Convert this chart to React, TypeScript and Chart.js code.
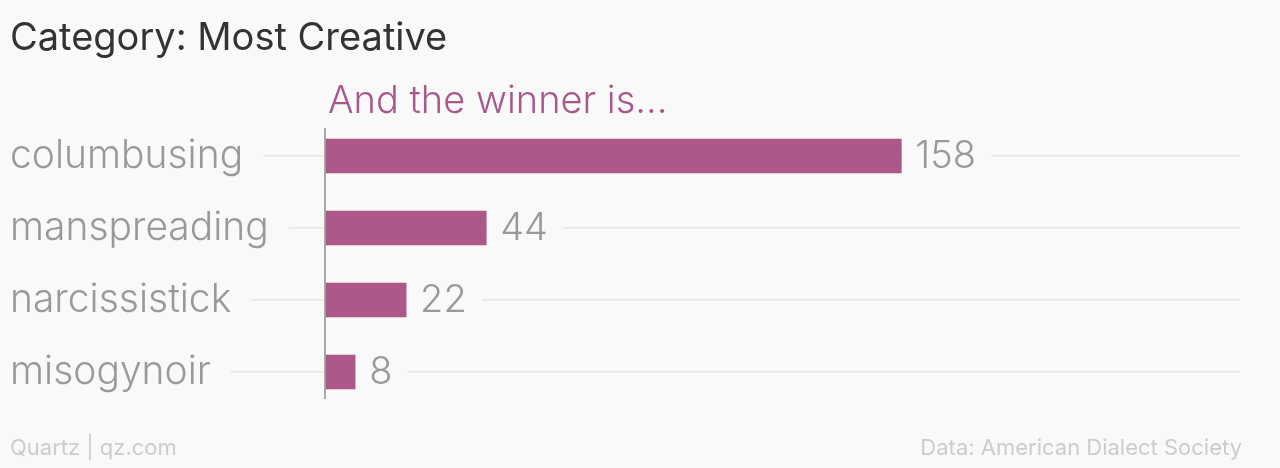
import React, { useEffect, useRef } from "react";
import { Chart, registerables } from "chart.js";

Chart.register(...registerables);

const categories = ["columbusing", "manspreading", "narcissistick", "misogynoir"];
const votes = [158, 44, 22, 8];
const titleText = "Category: Most Creative";
const subtitleText = "And the winner is...";
const footerLeft = "Quartz | qz.com";
const footerRight = "Data: American Dialect Society";

const BG = "#f9f9f9";
const BAR = "#ab5787";
const LABEL = "#999999";
const GRID = "#e6e6e6";
const FONT = "Inter, 'Noto Sans', sans-serif";

export default function App() {
  const ref = useRef<HTMLCanvasElement | null>(null);

  useEffect(() => {
    document.body.style.background = BG;
    const canvas = ref.current;
    if (!canvas) return;

    const decor = {
      id: "decor",
      beforeDatasetsDraw(chart: any) {
        const { ctx } = chart;
        const x = chart.scales.x.getPixelForValue(0);
        const y = chart.scales.y;
        ctx.save();
        ctx.strokeStyle = "#aaaaaa";
        ctx.lineWidth = 2;
        ctx.beginPath();
        ctx.moveTo(x - 1, y.top + 8);
        ctx.lineTo(x - 1, y.bottom - 9);
        ctx.stroke();
        ctx.restore();
      },
      afterDatasetsDraw(chart: any) {
        const { ctx } = chart;
        const meta = chart.getDatasetMeta(0);
        ctx.save();
        ctx.font = `300 38px ${FONT}`;
        ctx.textBaseline = "middle";
        ctx.textAlign = "left";
        meta.data.forEach((bar: any, i: number) => {
          const txt = String(votes[i]);
          const w = ctx.measureText(txt).width;
          const tx = bar.x + 14;
          ctx.fillStyle = BG;
          ctx.fillRect(bar.x + 1, bar.y - 6, 14 + w + 14, 12);
          ctx.fillStyle = LABEL;
          ctx.fillText(txt, tx, bar.y + 1);
        });
        ctx.restore();
      },
      afterDraw(chart: any) {
        const { ctx } = chart;
        ctx.save();
        ctx.textBaseline = "alphabetic";
        ctx.textAlign = "left";
        ctx.fillStyle = "#333333";
        ctx.font = `400 38px ${FONT}`;
        ctx.fillText(titleText, 2, 42);
        ctx.fillStyle = "#a8598c";
        ctx.font = `300 38px ${FONT}`;
        ctx.fillText(subtitleText, 320, 105);
        ctx.fillStyle = "#cccccc";
        ctx.font = `400 22px ${FONT}`;
        ctx.fillText(footerLeft, 2, 447);
        ctx.textAlign = "right";
        ctx.fillText(footerRight, 1234, 447);
        ctx.restore();
      },
    };

    const chart = new Chart(canvas, {
      type: "bar",
      data: {
        labels: categories,
        datasets: [
          {
            data: votes,
            backgroundColor: BAR,
            borderWidth: 0,
            barThickness: 34,
            clip: false as any,
          },
        ],
      },
      options: {
        indexAxis: "y",
        animation: false,
        responsive: false,
        maintainAspectRatio: false,
        layout: { padding: { left: 2, right: 32, top: 112, bottom: 52 } },
        plugins: {
          legend: { display: false },
          tooltip: { enabled: false },
        },
        scales: {
          x: {
            display: false,
            min: 0,
            max: 251,
          },
          y: {
            offset: true,
            border: { display: false },
            grid: {
              offset: false,
              color: GRID,
              lineWidth: 1.5,
              drawTicks: true,
              tickLength: 316,
            },
            ticks: {
              crossAlign: "far",
              padding: 0,
              color: LABEL,
              font: { family: FONT, size: 39, weight: "300" as any },
              showLabelBackdrop: true,
              backdropColor: BG,
              backdropPadding: { left: 4, right: 20, top: 0, bottom: 0 },
            } as any,
            afterFit(scale: any) {
              scale.width = 316;
            },
          },
        },
      },
      plugins: [decor],
    });

    return () => chart.destroy();
  }, []);

  return (
    <div style={{ width: 1264, height: 452 }}>
      <canvas ref={ref} width={1264} height={452} style={{ display: "block" }} />
    </div>
  );
}
